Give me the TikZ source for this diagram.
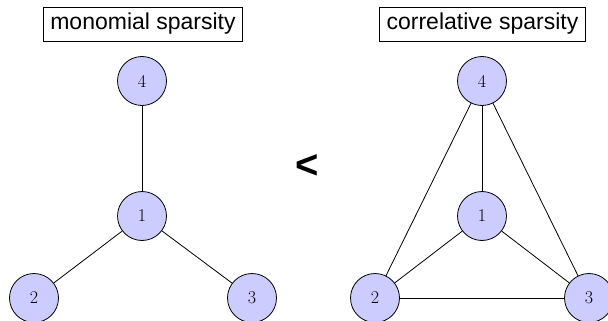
\documentclass[tikz,border=0pt]{standalone}
\usepackage{fontspec}
\setmainfont{Liberation Sans}
\newfontfamily\lmfont{Latin Modern Roman}
\begin{document}
\begin{tikzpicture}[x=1pt,y=-1pt,
  vertex/.style={circle,draw=black,line width=0.8pt,fill=blue!20,minimum size=49pt,inner sep=0pt,font=\lmfont\fontsize{18}{18}\selectfont},
  edge/.style={line width=0.8pt,black},
  title/.style={draw=black,line width=0.7pt,inner xsep=7pt,minimum height=34pt,font=\fontsize{23}{23}\selectfont}]
\useasboundingbox (0,0) rectangle (608,321);
% left graph: monomial sparsity (star)
\node[title] (tl) at (143,24) {monomial sparsity};
\node[vertex] (a4) at (142,81) {4};
\node[vertex] (a1) at (142,216) {1};
\node[vertex] (a2) at (34,298) {2};
\node[vertex] (a3) at (252,298) {3};
\draw[edge] (a4) -- (a1);
\draw[edge] (a1) -- (a2);
\draw[edge] (a1) -- (a3);
% comparison sign
\node[font=\bfseries\fontsize{40}{40}\selectfont,inner sep=0pt] (lt) at (307,166) {<};
% right graph: correlative sparsity (complete graph)
\node[title] (tr) at (482.5,24) {correlative sparsity};
\node[vertex] (b4) at (482,81) {4};
\node[vertex] (b1) at (482,216) {1};
\node[vertex] (b2) at (375,298) {2};
\node[vertex] (b3) at (589,298) {3};
\draw[edge] (b4) -- (b1);
\draw[edge] (b4) -- (b2);
\draw[edge] (b4) -- (b3);
\draw[edge] (b1) -- (b2);
\draw[edge] (b1) -- (b3);
\draw[edge] (b2) -- (b3);
\end{tikzpicture}
\end{document}
